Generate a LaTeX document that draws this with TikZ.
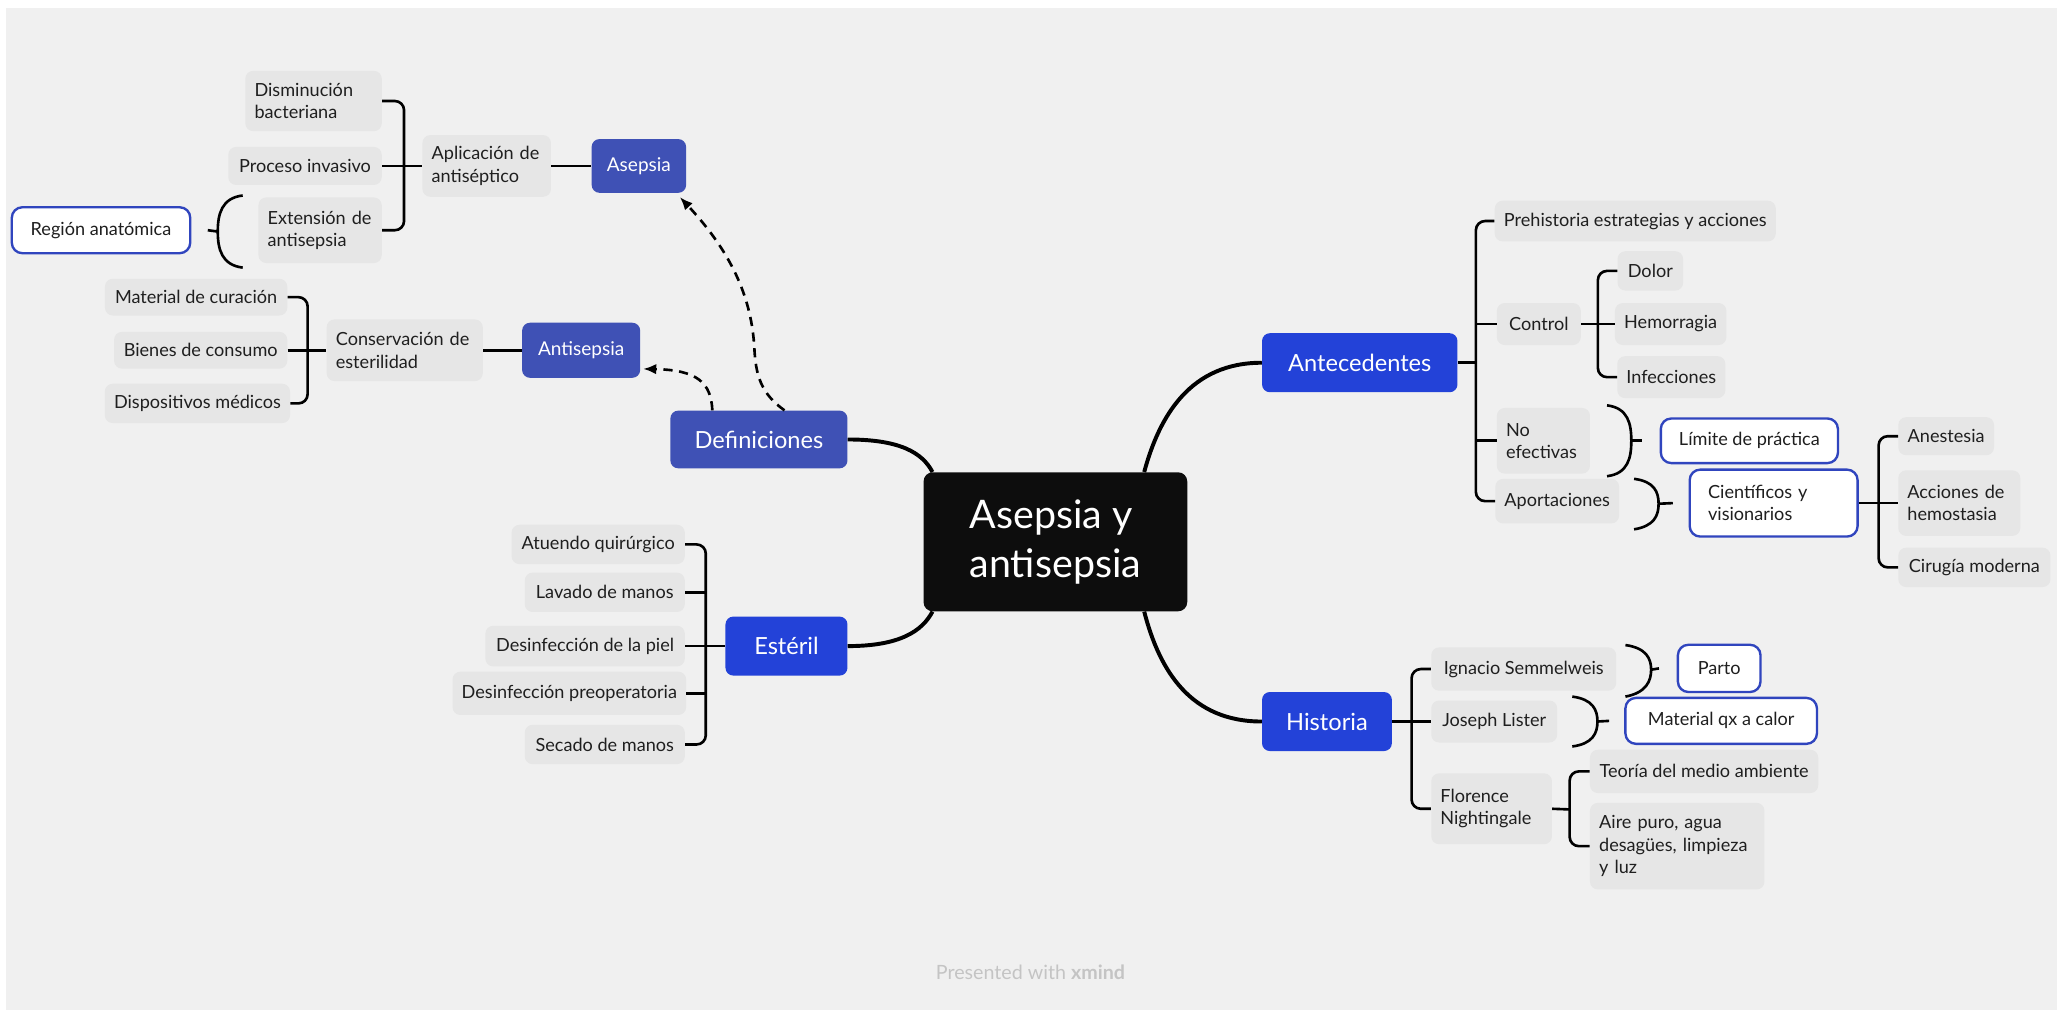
\documentclass[tikz,border=0pt]{standalone}
\usepackage{fontspec}
\setmainfont{Lato}
\usetikzlibrary{arrows.meta,calc}
\definecolor{bg}{HTML}{F0F0F0}
\definecolor{boxgray}{HTML}{E6E6E6}
\definecolor{indigo}{HTML}{3F51B5}
\definecolor{royal}{HTML}{2342D8}
\definecolor{outblue}{HTML}{3045BE}
\definecolor{textdark}{HTML}{1F1F1F}
\definecolor{central}{HTML}{0D0D0D}
\definecolor{credit}{HTML}{C4C4C4}
\tikzset{
  gbox/.style={fill=boxgray, rounded corners=6pt, text=textdark, inner xsep=7pt, inner ysep=3pt,
    font=\fontsize{13.8}{17}\selectfont, align=center},
  gml/.style={gbox, align=left},
  obox/.style={draw=outblue, line width=1.8pt, fill=white, rounded corners=8pt, text=textdark,
    inner xsep=7pt, inner ysep=3pt, font=\fontsize{13.8}{17}\selectfont, align=center},
  mtopic/.style={rounded corners=6pt, text=white, font=\fontsize{18}{21}\selectfont, inner sep=2pt},
  stopic/.style={rounded corners=6pt, text=white, font=\fontsize{14.5}{17}\selectfont, inner sep=2pt},
  br/.style={line width=2pt, draw=black, rounded corners=7pt},
  mainline/.style={line width=3pt, draw=black},
  dsh/.style={line width=2pt, draw=black, dash pattern=on 7pt off 5pt, -{Latex[length=10pt,width=8pt]}},
}
\begin{document}
\begin{tikzpicture}[x=1pt,y=-1pt]
\useasboundingbox (0,0) rectangle (1568,770);
\fill[white] (0,0) rectangle (1568,770);
\fill[bg] (4.6,6.1) rectangle (1568,770);

% central
\node[fill=central, rounded corners=7pt, text=white, font=\fontsize{30}{37}\selectfont,
  minimum width=201pt, minimum height=106pt, align=left, inner sep=2pt] (central) at (804.5,413) {Asepsia y\\antisepsia};

% main topics
\node[mtopic, fill=indigo, minimum width=135pt, minimum height=44pt] (defin) at (578.5,335) {Definiciones};
\node[mtopic, fill=royal, minimum width=93pt, minimum height=45pt] (esteril) at (599.5,492.5) {Estéril};
\node[mtopic, fill=royal, minimum width=149pt, minimum height=45pt] (antec) at (1036.5,276.5) {Antecedentes};
\node[mtopic, fill=royal, minimum width=99pt, minimum height=45pt] (historia) at (1011.5,550) {Historia};
\node[stopic, fill=indigo, minimum width=72pt, minimum height=41pt] (asepsia) at (487,126.5) {Asepsia};
\node[stopic, fill=indigo, minimum width=90pt, minimum height=42pt] (antisepsia) at (443,267) {Antisepsia};

% Asepsia branch
\node[gml, text width=90pt, minimum height=46pt] (dism) at (239,77) {Disminución\\bacteriana};
\node[gbox, minimum width=117pt, minimum height=29pt] (proc) at (232.5,126.5) {Proceso invasivo};
\node[gml, text width=80pt, minimum height=50pt] (ext) at (244,175.5) {Extensión de\\antisepsia};
\node[gml, text width=84pt, minimum height=47pt] (apl) at (371,126.5) {Aplicación de\\antiséptico};
\node[obox, minimum width=136pt, minimum height=35pt] (region) at (77,175.5) {Región anatómica};

% Antisepsia branch
\node[gml, text width=105pt, minimum height=47pt] (cons) at (308.5,267) {Conservación de\\esterilidad};
\node[gbox, minimum width=139pt, minimum height=28pt] (mat) at (149.5,226.5) {Material de curación};
\node[gbox, minimum width=132pt, minimum height=28pt] (bienes) at (153,267) {Bienes de consumo};
\node[gbox, minimum width=137pt, minimum height=30pt] (disp) at (150.5,307.5) {Dispositivos médicos};

% Esteril branch
\node[gbox, minimum width=132pt, minimum height=30pt] (atuendo) at (456,415) {Atuendo quirúrgico};
\node[gbox, minimum width=122pt, minimum height=30pt] (lavado) at (461,451.5) {Lavado de manos};
\node[gbox, minimum width=152pt, minimum height=31pt] (piel) at (446,492.5) {Desinfección de la piel};
\node[gbox, minimum width=176pt, minimum height=33pt] (preop) at (434,528.5) {Desinfección preoperatoria};
\node[gbox, minimum width=122pt, minimum height=30pt] (secado) at (461,567.5) {Secado de manos};

% Antecedentes branch
\node[gbox, minimum width=211pt, minimum height=31pt] (prehist) at (1246.5,168.5) {Prehistoria estrategias y acciones};
\node[gbox, minimum width=64pt, minimum height=32pt] (control) at (1173,247) {Control};
\node[gbox, minimum width=50pt, minimum height=30pt] (dolor) at (1258,206.5) {Dolor};
\node[gbox, minimum width=81pt, minimum height=32pt] (hemorr) at (1273.5,247) {Hemorragia};
\node[gbox, minimum width=82pt, minimum height=32pt] (infec) at (1274,287.5) {Infecciones};
\node[gml, text width=57pt, minimum height=50pt] (noef) at (1176.5,336) {No\\efectivas};
\node[gbox, minimum width=92pt, minimum height=34pt] (aport) at (1187,382) {Aportaciones};
\node[obox, minimum width=135pt, minimum height=34pt] (limite) at (1333.5,336) {Límite de práctica};
\node[obox, align=left, inner xsep=14pt, text width=100pt, minimum height=51pt] (cientif) at (1352,383.5) {Científicos y\\visionarios};
\node[gbox, minimum width=73pt, minimum height=29pt] (anest) at (1483.5,332.5) {Anestesia};
\node[gml, text width=79pt, minimum height=50pt] (acciones) at (1493.5,383.5) {Acciones de\\hemostasia};
\node[gbox, minimum width=116pt, minimum height=30pt] (cirugia) at (1505,432.5) {Cirugía moderna};

% Historia branch
\node[gbox, minimum width=141pt, minimum height=33pt] (ignacio) at (1161.5,510) {Ignacio Semmelweis};
\node[gbox, minimum width=96pt, minimum height=32pt] (lister) at (1139,550) {Joseph Lister};
\node[gml, text width=78pt, minimum height=54pt] (florence) at (1137,616.5) {Florence\\Nightingale};
\node[obox, minimum width=63pt, minimum height=36pt] (parto) at (1310.5,509.5) {Parto};
\node[obox, minimum width=146pt, minimum height=35pt] (matqx) at (1312,549.5) {Material qx a calor};
\node[gbox, minimum width=174pt, minimum height=33pt] (teoria) at (1299,588) {Teoría del medio ambiente};
\node[gml, text width=119pt, minimum height=66pt] (aire) at (1278.5,645) {Aire puro, agua\\desagües, limpieza\\y luz};

% credit
\node[text=credit, font=\fontsize{15}{18}\selectfont] (credit) at (785.5,741) {Presented with \textbf{xmind}};

% bracket junctions
\coordinate (jApl) at (308,126.5);
\coordinate (jCons) at (234.5,267);
\coordinate (jEst) at (538,492.5);
\coordinate (jAnt) at (1125,276.5);
\coordinate (jCtrl) at (1218,247);
\coordinate (jCient) at (1432,383.5);
\coordinate (jHist) at (1076,550);
\coordinate (jFlor) at (1196.5,617);

% main curves
\draw[mainline] (defin.east) .. controls (686,335) and (703,345) .. ([xshift=7pt]central.north west);
\draw[mainline] (esteril.east) .. controls (686,492.5) and (703,481) .. ([xshift=7pt]central.south west);
\draw[mainline] ([xshift=-33pt]central.north east) .. controls (884,316) and (908,276.5) .. (antec.west);
\draw[mainline] ([xshift=-33pt]central.south east) .. controls (884,512) and (908,550) .. (historia.west);

% dashed arrows
\draw[dsh] ([xshift=19.5pt]defin.north) .. controls (580,300) and (576,286) .. (575,265) .. controls (573,230) and (560,195) .. ([xshift=-5pt,yshift=-3pt]asepsia.south east);
\draw[dsh] ([xshift=-35.5pt]defin.north) .. controls (542,292) and (532,282) .. ([xshift=2pt,yshift=7pt]antisepsia.south east);

% Asepsia brackets
\draw[br] (dism.east) -| (jApl) |- (ext.east);
\draw[br] (proc.east) -- (apl.west);
\draw[br] (apl.east) -- (asepsia.west);
% brace for region
\draw[line width=2pt] (185,149) .. controls (169,151) and (166,163) .. (166,176.5) .. controls (166,190) and (169,202) .. (185,204);
\draw[line width=2pt] ([xshift=12.5pt]region.east) -- (166,176.5);

% Antisepsia brackets
\draw[br] (mat.east) -| (jCons) |- (disp.east);
\draw[br] (bienes.east) -- (cons.west);
\draw[br] (cons.east) -- (antisepsia.west);

% Esteril bracket
\draw[br] (atuendo.east) -| (jEst) |- (secado.east);
\draw[br] (lavado.east) -- (lavado.east -| jEst);
\draw[br] (preop.east) -- (preop.east -| jEst);
\draw[br] (piel.east) -- (esteril.west);

% Antecedentes brackets
\draw[br] (prehist.west) -| (jAnt) |- (aport.west);
\draw[br] (antec.east) -- (jAnt);
\draw[br] (control.west) -- (control.west -| jAnt);
\draw[br] (noef.west) -- (noef.west -| jAnt);
\draw[br] (dolor.west) -| (jCtrl) |- (infec.west);
\draw[br] (control.east) -- (hemorr.west);
\draw[br] (anest.west) -| (jCient) |- (cirugia.west);
\draw[br] (cientif.east) -- (acciones.west);
% braces
\draw[line width=2pt] (1225,309) .. controls (1241,311) and (1243.5,323) .. (1243.5,336) .. controls (1243.5,349) and (1241,361) .. (1225,363);
\draw[line width=2pt] (1243.5,336) -- ([xshift=-13.5pt]limite.west);
\draw[line width=2pt] (1245.6,365) .. controls (1261,367) and (1264.3,375) .. (1264.3,384) .. controls (1264.3,393) and (1261,401) .. (1245.6,403.5);
\draw[line width=2pt] (1264.3,384) -- ([xshift=-12pt]cientif.west);

% Historia brackets
\draw[br] (ignacio.west) -| (jHist) |- (florence.west);
\draw[br] (historia.east) -- (lister.west);
\draw[br] (teoria.west) -| (jFlor) |- (aire.west);
\draw[br] (florence.east) -- (jFlor);
\draw[line width=2pt] (1239,491.7) .. controls (1255,494) and (1258.6,502) .. (1258.6,510.5) .. controls (1258.6,519) and (1255,528) .. (1239,531);
\draw[line width=2pt] (1258.6,510.5) -- ([xshift=-13.5pt]parto.west);
\draw[line width=2pt] (1198.5,531) .. controls (1214,533) and (1217.7,541) .. (1217.7,550) .. controls (1217.7,559) and (1214,567) .. (1198.5,569);
\draw[line width=2pt] (1217.7,550) -- ([xshift=-11.5pt]matqx.west);
\end{tikzpicture}
\end{document}
